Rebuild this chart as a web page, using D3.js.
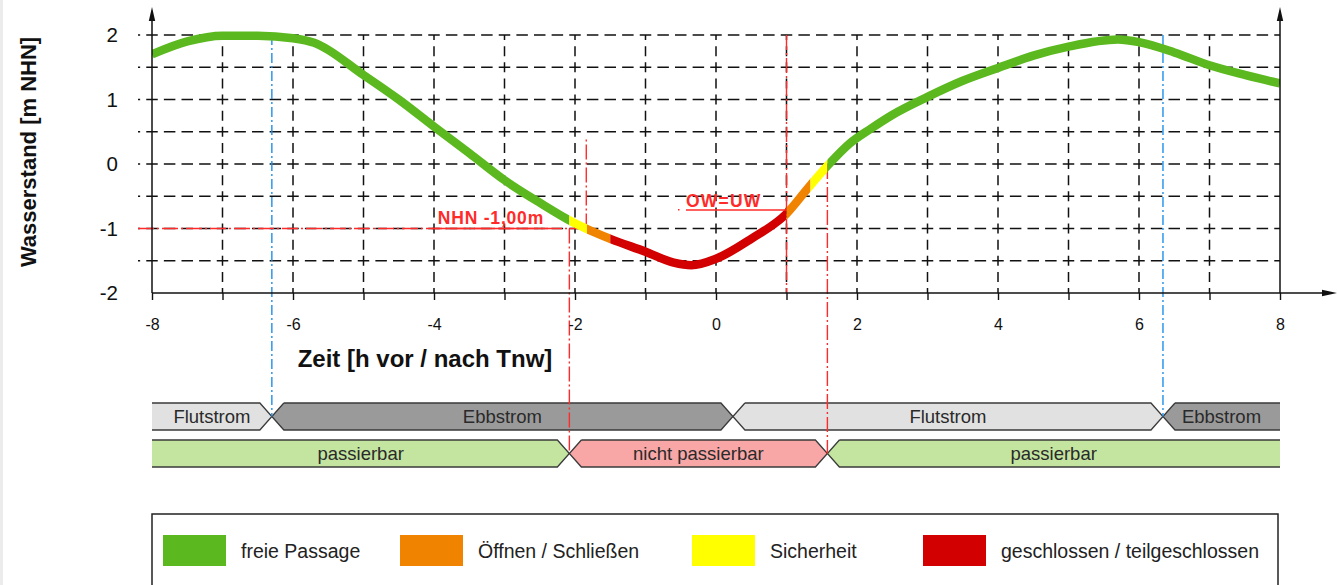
<!DOCTYPE html>
<html><head><meta charset="utf-8">
<script src="https://cdn.jsdelivr.net/npm/d3@7"></script>
<style>
html,body{margin:0;padding:0;background:#fff;}
svg{display:block;font-family:"Liberation Sans",Arial,Helvetica,sans-serif;}
</style></head><body>
<svg id="c" width="1338" height="585"></svg>
<script>
// ---------------- data ----------------
const times  = [-8, -7.5, -7, -6.5, -6, -5.7, -5, -4.5, -4, -3.5, -3, -2.5, -2, -1.5, -1, -0.6, -0.35, 0, 0.5, 1, 1.3, 1.58, 1.9, 2.2, 2.5, 3, 3.5, 4, 4.5, 5, 5.7, 6, 6.5, 7, 7.5, 8];
const levels = [1.70, 1.90, 1.99, 1.99, 1.95, 1.88, 1.38, 1.0, 0.58, 0.17, -0.25, -0.6, -0.92, -1.16, -1.36, -1.53, -1.57, -1.47, -1.16, -0.77, -0.38, -0.03, 0.32, 0.55, 0.76, 1.04, 1.29, 1.49, 1.68, 1.82, 1.93, 1.89, 1.73, 1.53, 1.38, 1.25];

const phaseStarts = [-8, -2.08, -1.83, -1.5, 1.0, 1.34, 1.58];
const phaseEnds   = [-2.08, -1.83, -1.5, 1.0, 1.34, 1.58, 8];
const phaseKeys   = ["frei", "sicherheit", "oeffnen", "geschlossen", "oeffnen", "sicherheit", "frei"];

const legendKeys   = ["frei", "oeffnen", "sicherheit", "geschlossen"];
const legendLabels = ["freie Passage", "Öffnen / Schließen", "Sicherheit", "geschlossen / teilgeschlossen"];

const flowBounds = [-8, -6.3, 0.24, 6.34, 8];
const flowLabels = ["Flutstrom", "Ebbstrom", "Flutstrom", "Ebbstrom"];
const passBounds = [-8, -2.08, 1.58, 8];
const passLabels = ["passierbar", "nicht passierbar", "passierbar"];

const xTickValues = [-8, -7, -6, -5, -4, -3, -2, -1, 0, 1, 2, 3, 4, 5, 6, 7, 8];
const xLabelValues = [-8, -6, -4, -2, 0, 2, 4, 6, 8];
const xLabelTexts  = ["-8", "-6", "-4", "-2", "0", "2", "4", "6", "8"];
const yTickValues = [-2, -1, 0, 1, 2];
const yTickTexts  = ["-2", "-1", "0", "1", "2"];
const yGridValues = [-1.5, -1, -0.5, 0, 0.5, 1, 1.5, 2];

const blueMarks = [-6.3, 6.34];
const nhnLevel = -1;
const nhnTime = -1.84;      // end of NHN bracket
const nhnTop = 0.4;
const closeStart = -2.08, closeEnd = 1.58, owuwTime = 1.0;

const xTitle = "Zeit [h vor / nach Tnw]";
const yTitle = "Wasserstand [m NHN]";
const nhnText = "NHN -1,00m";
const owuwText = "OW=UW";

// ---------------- style ----------------
const colors = {frei: "#5bb91f", oeffnen: "#f08300", sicherheit: "#ffff00", geschlossen: "#d20000"};
const flowFill = {Flutstrom: "#e1e1e1", Ebbstrom: "#9a9a9a"};
const passFill = {"passierbar": "#c4e59f", "nicht passierbar": "#f9a6a6"};
const RED = "#ff2b2b", BLUE = "#1f8fe8";

const svg = d3.select("#c");
svg.append("rect").attr("width", 1338).attr("height", 585).attr("fill", "#fff");
svg.append("rect").attr("x", 0).attr("y", 0).attr("width", 3).attr("height", 585).attr("fill", "#ececec");

const x = d3.scaleLinear().domain([-8, 8]).range([152, 1280]);
const y = d3.scaleLinear().domain([-2, 2]).range([293, 35]);

// ---------------- grid ----------------
const g = svg.append("g");
const gridX0 = 138;
const ph = (x(1) - x(0)) / 4, dh = 11.5;
const hOff = ((ph - (((x(-8) - gridX0) - dh / 2) % ph)) % ph + ph) % ph;
g.selectAll("line.hg").data(yGridValues).join("line")
  .attr("x1", gridX0).attr("x2", x(8)).attr("y1", d => y(d)).attr("y2", d => y(d))
  .attr("stroke", "#111").attr("stroke-width", 1.5)
  .attr("stroke-dasharray", `${dh},${ph - dh}`).attr("stroke-dashoffset", hOff);
const pv = (y(-2) - y(2)) / 16, dv = 10;
g.selectAll("line.vg").data(xTickValues.filter(d => d > -8 && d < 8)).join("line")
  .attr("x1", d => x(d)).attr("x2", d => x(d)).attr("y1", y(2)).attr("y2", y(-2))
  .attr("stroke", "#111").attr("stroke-width", 1.5)
  .attr("stroke-dasharray", `${dv},${pv - dv}`).attr("stroke-dashoffset", dv / 2);

// ---------------- bands ----------------
function bandPath(a, b, top, bot, leftPt, rightPt, k) {
  const m = (top + bot) / 2;
  const la = leftPt ? a + k : a, rb = rightPt ? b - k : b;
  const fill = `M${la},${top}L${rb},${top}` + (rightPt ? `L${b},${m}` : "") + `L${rb},${bot}L${la},${bot}` + (leftPt ? `L${a},${m}` : "") + "Z";
  let stroke = `M${la},${top}L${rb},${top}`;
  stroke += rightPt ? `L${b},${m}L${rb},${bot}` : `M${rb},${bot}`;
  stroke += `L${la},${bot}`;
  if (leftPt) stroke += `L${a},${m}L${la},${top}`;
  return {fill, stroke};
}
function drawRow(bounds, labels, fills, top, bot) {
  const k = 12;
  const row = svg.append("g");
  labels.forEach((lab, i) => {
    const a = x(bounds[i]), b = x(bounds[i + 1]);
    const p = bandPath(a, b, top, bot, i > 0, i < labels.length - 1, k);
    row.append("path").attr("d", p.fill).attr("fill", fills[lab]);
    row.append("path").attr("d", p.stroke).attr("fill", "none").attr("stroke", "#3a3a3a").attr("stroke-width", 1.3);
    row.append("text").attr("x", (a + b) / 2).attr("y", (top + bot) / 2 + 6.5)
      .attr("text-anchor", "middle").attr("font-size", 18.5).attr("fill", "#2a2a2a").text(lab);
  });
}
const row1 = [403, 430], row2 = [440, 467];
drawRow(flowBounds, flowLabels, flowFill, row1[0], row1[1]);
drawRow(passBounds, passLabels, passFill, row2[0], row2[1]);

// ---------------- reference lines ----------------
const ref = svg.append("g").attr("fill", "none").attr("stroke-width", 1.4);
const dashDot = "15,3,2,3";
ref.selectAll("line.blue").data(blueMarks).join("line")
  .attr("x1", d => x(d)).attr("x2", d => x(d)).attr("y1", y(2)).attr("y2", (row1[0] + row1[1]) / 2)
  .attr("stroke", BLUE).attr("stroke-dasharray", "10,3,2,3");
// NHN bracket
ref.append("line").attr("x1", gridX0).attr("x2", x(nhnTime)).attr("y1", y(nhnLevel)).attr("y2", y(nhnLevel))
  .attr("stroke", RED).attr("stroke-dasharray", "16,3,2,3");
ref.append("line").attr("x1", x(nhnTime)).attr("x2", x(nhnTime)).attr("y1", y(nhnLevel)).attr("y2", y(nhnTop))
  .attr("stroke", RED).attr("stroke-dasharray", dashDot);
ref.append("line").attr("x1", x(closeStart)).attr("x2", x(closeStart)).attr("y1", y(nhnLevel)).attr("y2", (row2[0] + row2[1]) / 2)
  .attr("stroke", RED).attr("stroke-dasharray", dashDot);
ref.append("line").attr("x1", x(closeEnd)).attr("x2", x(closeEnd)).attr("y1", y(0)).attr("y2", (row2[0] + row2[1]) / 2)
  .attr("stroke", RED).attr("stroke-dasharray", dashDot);
ref.append("line").attr("x1", x(owuwTime)).attr("x2", x(owuwTime)).attr("y1", y(2)).attr("y2", y(-2))
  .attr("stroke", RED).attr("stroke-dasharray", dashDot);

// ---------------- curve ----------------
const pts = times.map((t, i) => [t, levels[i]]);
const line = d3.line().x(d => x(d[0])).y(d => y(d[1])).curve(d3.curveMonotoneX);
const defs = svg.append("defs");
phaseKeys.forEach((key, i) => {
  defs.append("clipPath").attr("id", "ph" + i).append("rect")
    .attr("x", x(phaseStarts[i])).attr("width", x(phaseEnds[i]) - x(phaseStarts[i]))
    .attr("y", 0).attr("height", 585);
  svg.append("path").attr("d", line(pts)).attr("fill", "none")
    .attr("stroke", colors[key]).attr("stroke-width", 8.5).attr("stroke-linecap", "butt")
    .attr("clip-path", `url(#ph${i})`);
});

// ---------------- annotations ----------------
svg.append("text").attr("x", 544).attr("y", 224).attr("text-anchor", "end")
  .attr("font-size", 17.5).attr("font-weight", "bold").attr("letter-spacing", 0.8)
  .attr("fill", RED).text(nhnText);
svg.append("line").attr("x1", 432).attr("x2", 548).attr("y1", y(nhnLevel)).attr("y2", y(nhnLevel))
  .attr("stroke", RED).attr("stroke-width", 1.4);
svg.append("text").attr("x", 686).attr("y", 207)
  .attr("font-size", 17.5).attr("font-weight", "bold").attr("letter-spacing", 1.2)
  .attr("fill", RED).text(owuwText);
svg.append("line").attr("x1", 686).attr("x2", x(owuwTime)).attr("y1", 210).attr("y2", 210)
  .attr("stroke", RED).attr("stroke-width", 1.4);
svg.append("rect").attr("x", 678).attr("y", 209).attr("width", 1.5).attr("height", 1.5).attr("fill", RED);

// ---------------- axes ----------------
const ax = svg.append("g").attr("stroke", "#111").attr("stroke-width", 1.5);
ax.append("line").attr("x1", x(-8)).attr("x2", x(-8)).attr("y1", y(-2)).attr("y2", 14);
ax.append("line").attr("x1", x(8)).attr("x2", x(8)).attr("y1", y(-2)).attr("y2", 14);
ax.append("line").attr("x1", x(-8)).attr("x2", 1326).attr("y1", y(-2)).attr("y2", y(-2));
const arrows = svg.append("g").attr("fill", "#111");
[x(-8), x(8)].forEach(px => arrows.append("path").attr("d", `M${px},7L${px - 3.2},21L${px + 3.2},21Z`));
arrows.append("path").attr("d", `M1337,${y(-2)}L1322,${y(-2) - 3.2}L1322,${y(-2) + 3.2}Z`);

const xAxis = d3.axisBottom(x).tickValues(xTickValues).tickSize(7).tickSizeOuter(0).tickPadding(19)
  .tickFormat(d => { const i = xLabelValues.indexOf(d); return i >= 0 ? xLabelTexts[i] : ""; });
const xg = svg.append("g").attr("transform", `translate(0,${y(-2)})`).call(xAxis);
xg.select(".domain").remove();
xg.selectAll(".tick line").attr("stroke", "#111").attr("stroke-width", 1.4);
xg.selectAll(".tick text").attr("font-size", 16).attr("fill", "#111").attr("font-family", "Liberation Sans, Arial, sans-serif");

const yAxis = d3.axisLeft(y).tickValues(yTickValues).tickSize(0).tickPadding(34)
  .tickFormat(d => yTickTexts[yTickValues.indexOf(d)]);
const yg = svg.append("g").attr("transform", `translate(${x(-8)},0)`).call(yAxis);
yg.select(".domain").remove();
yg.selectAll(".tick text").attr("font-size", 20.5).attr("fill", "#111").attr("font-family", "Liberation Sans, Arial, sans-serif");

svg.append("text").attr("x", 425).attr("y", 367).attr("text-anchor", "middle")
  .attr("font-size", 24).attr("font-weight", "bold").attr("fill", "#111").text(xTitle);
svg.append("text").attr("transform", "translate(36,152) rotate(-90)").attr("text-anchor", "middle")
  .attr("font-size", 22).attr("font-weight", "bold").attr("fill", "#111").text(yTitle);

// ---------------- legend ----------------
const lg = svg.append("g");
lg.append("rect").attr("x", 152).attr("y", 514).attr("width", 1126).attr("height", 100)
  .attr("fill", "#fff").attr("stroke", "#222").attr("stroke-width", 1.5);
const swX = [163, 400, 692, 923];
legendKeys.forEach((k, i) => {
  lg.append("rect").attr("x", swX[i]).attr("y", 535).attr("width", 63).attr("height", 31).attr("fill", colors[k]);
  lg.append("text").attr("x", swX[i] + 78).attr("y", 558).attr("font-size", 19.5).attr("fill", "#222").text(legendLabels[i]);
});
</script>
</body></html>
